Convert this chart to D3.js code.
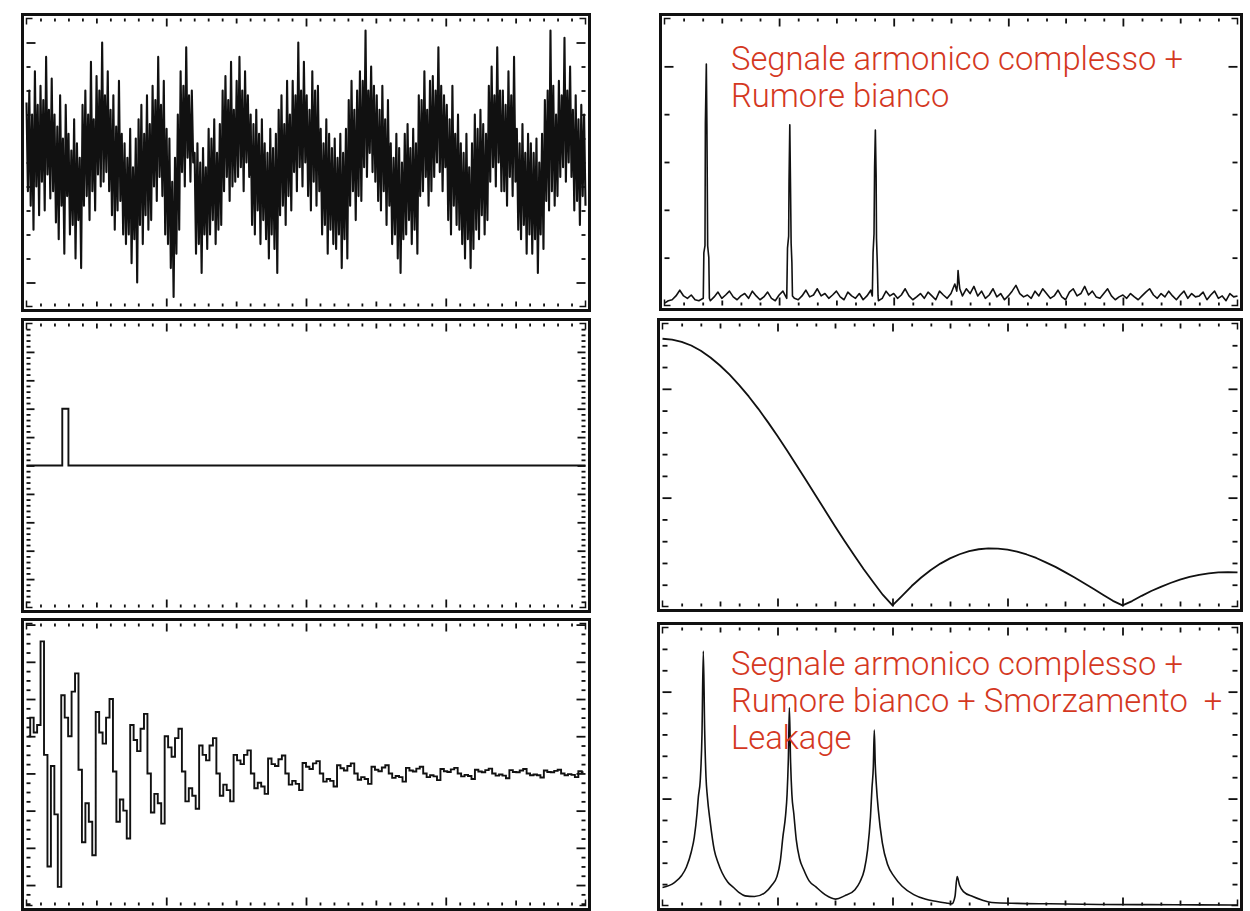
<!DOCTYPE html>
<html><head><meta charset="utf-8">
<script src="https://cdn.jsdelivr.net/npm/d3@7/dist/d3.min.js"></script>
<style>html,body{margin:0;padding:0;background:#fff;}svg{display:block;}text.lbl{white-space:pre;}</style>
</head><body>
<svg id="c" width="1250" height="911"></svg>
<script>
// ---------- DATA ----------
// Top-left: harmonic signal + white noise (time series)
const tlValues = [
25,-12,30,-18,20,-28,38,-10,24,-22,
32,-8,26,-20,44,-5,22,-15,35,-12,
20,-25,15,-32,28,-18,10,-38,24,-14,
12,-30,5,-26,18,-40,8,-24,2,-44,
24,-18,30,-14,20,-24,42,-12,18,-20,
36,-5,30,-10,50,-8,28,-4,38,-12,
22,-22,28,-28,15,-20,34,-16,12,-30,
8,-34,2,-30,14,-42,-2,-32,10,-50,
18,-26,24,-34,12,-22,28,-28,16,-24,
32,-10,26,-16,44,-6,24,-14,34,-30,
14,-34,10,-44,-8,-56,2,-38,20,-28,
38,-4,32,-10,48,2,28,-8,30,0,
4,-38,8,-34,0,-46,6,-30,-2,-36,
14,-30,10,-24,18,-34,4,-28,16,-26,
30,-12,36,-6,26,-16,42,-10,22,-8,
34,-6,44,-2,30,-12,38,0,28,-6,
20,-26,16,-30,22,-20,12,-34,18,-24,
8,-32,4,-40,14,-30,6,-36,12,-46,
22,-22,28,-18,16,-26,34,-14,20,-20,
34,-4,28,-12,50,-2,30,-10,42,0,
28,-14,22,-20,38,-8,30,-18,32,-12,
14,-30,8,-26,18,-38,12,-28,6,-34,
10,-36,2,-30,12,-44,4,-32,14,-40,
26,-18,34,-12,22,-24,30,-14,38,-16,
34,-2,55,-6,30,4,40,-4,32,-8,
28,-16,22,-20,32,-12,18,-26,26,-18,
8,-34,2,-30,12,-40,6,-46,0,-32,
12,-30,16,-24,6,-34,14,-28,8,-38,
28,-14,26,-12,38,-6,22,-18,34,-12,
36,-6,30,0,48,-4,32,-12,28,-2,
24,-24,18,-30,32,-18,12,-26,20,-28,
8,-34,4,-40,12,-32,-2,-44,8,-36,
20,-28,14,-32,22,-22,16,-30,12,-24,
32,-8,40,-2,28,-10,48,0,30,-12,
30,-12,24,-18,38,-6,28,-14,44,-8,
14,-28,8,-32,16,-26,4,-38,12,-30,
8,-38,4,-32,10,-46,0,-30,12,-36,
26,-16,30,-20,55,-12,32,-18,20,-14,
34,-6,28,-2,52,-8,30,0,40,-6,
22,-20,28,-16,18,-26,24,-14,20,-18
];

// Top-right: spectrum (noise floor on a 0.2 grid + the peaks)
const trGridStep = 0.2;
const trNoise = [
0.05,0.1,0.12,0.2,0.32,0.2,0.15,0.22,0.12,0.1,
0.12,0.15,0.1,0.18,0.28,0.15,0.22,0.3,0.18,0.12,
0.2,0.25,0.15,0.3,0.2,0.12,0.18,0.28,0.15,0.1,
0.22,0.3,0.18,0.25,0.15,0.12,0.2,0.32,0.18,0.22,
0.35,0.2,0.25,0.15,0.22,0.3,0.18,0.12,0.28,0.2,
0.15,0.25,0.12,0.2,0.32,0.18,0.1,0.15,0.3,0.2,
0.25,0.15,0.22,0.35,0.2,0.12,0.18,0.25,0.15,0.28,
0.2,0.12,0.3,0.22,0.15,0.25,0.45,0.3,0.2,0.35,
0.25,0.4,0.2,0.3,0.15,0.22,0.35,0.18,0.25,0.12,
0.2,0.3,0.42,0.25,0.18,0.22,0.15,0.3,0.2,0.35,
0.25,0.15,0.2,0.32,0.18,0.12,0.28,0.35,0.2,0.25,
0.4,0.22,0.3,0.18,0.15,0.25,0.35,0.2,0.12,0.18,
0.22,0.15,0.25,0.18,0.12,0.2,0.28,0.35,0.22,0.15,
0.25,0.18,0.3,0.2,0.12,0.22,0.3,0.15,0.25,0.18,
0.2,0.28,0.12,0.22,0.3,0.15,0.2,0.1,0.25,0.18,0.2
];
const trPeakFreq = [2.03,2.06,2.12,2.14,2.19,2.22,2.26,2.32,2.35,
                    6.4,6.44,6.5,6.52,6.56,6.6,6.63,6.67,6.7,
                    10.88,10.92,10.97,11.0,11.04,11.08,11.1,11.14,11.18,
                    15.3,15.34,15.37,15.42,15.46];
const trPeakAmp  = [0.15,1.1,1.25,3.8,5.05,3.8,1.25,1.0,0.15,
                    0.15,1.2,1.45,2.6,3.78,2.4,1.3,0.9,0.2,
                    0.2,1.1,1.5,2.9,3.67,2.7,1.4,0.9,0.2,
                    0.3,0.45,0.73,0.5,0.35];

// Middle-left: rectangular pulse
const mlPulseX = [0, 2.56, 2.56, 3.0, 3.0, 40];
const mlPulseY = [0, 0, 2, 2, 0, 0];

// Middle-right: magnitude of the pulse spectrum (step 0.5)
const mrStep = 0.5;
const mrAmp = [12.3,12.26,12.16,11.99,11.75,11.44,11.07,10.65,10.17,9.65,
9.08,8.47,7.83,7.17,6.48,5.79,5.09,4.39,3.69,3.01,
2.35,1.71,1.11,0.53,0.05,0.49,0.94,1.33,1.68,1.97,
2.21,2.40,2.54,2.63,2.67,2.66,2.61,2.52,2.39,2.23,
2.03,1.82,1.58,1.33,1.07,0.80,0.53,0.26,0.05,0.25,
0.49,0.71,0.90,1.08,1.23,1.36,1.45,1.52,1.57,1.58,1.57];

// Bottom-left: damped harmonic signal + noise
const blValues = [
1.0,1.5,1.1,1.3,3.55,0.5,-2.5,0.2,-1.1,
-3.05,2.1,1.5,1.0,2.2,2.69,0.1,-1.85,-0.8,-1.3,
-2.2,1.65,1.1,0.8,1.5,2.0,0.05,-1.3,-0.7,-1.0,
-1.75,1.3,0.9,0.6,1.2,1.6,0.0,-1.05,-0.55,-0.8,
-1.35,1.0,0.7,0.45,0.95,1.2,0.05,-0.75,-0.4,-0.6,
-0.95,0.75,0.5,0.35,0.75,0.95,0.0,-0.6,-0.3,-0.45,
-0.75,0.5,0.35,0.25,0.5,0.62,0.0,-0.4,-0.25,-0.35,
-0.55,0.4,0.25,0.2,0.38,0.48,0.0,-0.3,-0.2,-0.28,
-0.45,0.28,0.18,0.12,0.27,0.33,0.0,-0.22,-0.15,-0.2,
-0.35,0.22,0.14,0.08,0.2,0.27,0.0,-0.17,-0.1,-0.15,
-0.28,0.18,0.1,0.06,0.16,0.22,0.0,-0.12,-0.07,-0.1,
-0.22,0.15,0.08,0.05,0.13,0.18,0.0,-0.1,-0.05,-0.08,
-0.18,0.12,0.06,0.04,0.11,0.15,0.0,-0.08,-0.04,-0.07,
-0.15,0.1,0.05,0.03,0.09,0.13,0.0,-0.06,-0.03,-0.06,
-0.13,0.09,0.04,0.03,0.08,0.12,0.0,-0.05,-0.03,-0.05,
-0.11,0.08,0.04,0.03,0.07,0.1,0.0,-0.05,-0.02,-0.04,
-0.1,0.06,0.03
];

// Bottom-right: damped spectrum with leakage
const brFreq = [0,0.62,1.0,1.25,1.5,1.66,1.8,1.87,1.97,2.06,2.13,2.2,2.27,2.34,2.49,2.7,2.9,3.11,3.4,3.71,4.0,4.31,4.8,
5.35,5.7,5.97,6.15,6.28,6.42,6.5,6.57,6.62,6.68,6.75,6.85,6.98,7.15,7.37,7.65,7.99,8.5,9.03,9.5,
10.04,10.3,10.53,10.7,10.85,10.93,11.0,11.05,11.1,11.16,11.26,11.47,11.75,12.09,12.5,13.11,13.7,14.32,14.8,15.1,
15.26,15.37,15.5,15.7,16.19,16.7,17.18,18.5,20.2,22.8,25.4,28,30];
const brAmp = [0.84,1.07,1.4,1.8,2.5,3.2,4.3,5.07,5.86,8.0,11.9,8.2,6.0,5.1,3.9,2.6,2.0,1.53,1.1,0.84,0.6,0.45,0.42,
0.6,0.95,1.35,2.1,3.2,4.2,5.2,7.0,9.26,6.8,5.2,4.3,3.07,2.2,1.67,1.15,0.88,0.5,0.3,0.45,
0.74,1.1,1.67,2.6,4.14,5.5,6.5,8.2,6.6,5.6,4.47,2.93,1.9,1.35,0.9,0.51,0.3,0.19,0.12,0.08,
0.42,1.35,0.95,0.65,0.42,0.25,0.14,0.1,0.08,0.05,0.04,0.03,0.02];

// Annotations
const trLabel = ["Segnale armonico complesso +", "Rumore bianco"];
const brLabel = ["Segnale armonico complesso +", "Rumore bianco + Smorzamento  +", "Leakage"];

// ---------- LAYOUT ----------
const svg = d3.select("#c");
const INK = "#111";
const RED = "#d4381f";

function makePanel(p){
  const g = svg.append("g");
  g.append("rect").attr("x",p.x).attr("y",p.y).attr("width",p.w).attr("height",p.h)
    .attr("fill","none").attr("stroke",INK).attr("stroke-width",3);
  const ins = 4;
  const b = {x0:p.x+ins, x1:p.x+p.w-ins, y0:p.y+ins, y1:p.y+p.h-ins};
  const x = d3.scaleLinear().domain(p.xDomain).range([b.x0,b.x1]);
  const y = d3.scaleLinear().domain(p.yDomain).range([b.y1,b.y0]);

  function addAxis(axisFn, scale, values, len, tx, ty){
    const ax = axisFn(scale).tickValues(values).tickSize(-len).tickFormat("");
    const a = g.append("g").attr("transform",`translate(${tx},${ty})`).call(ax);
    a.select(".domain").remove();
    a.selectAll("line").attr("stroke",INK).attr("stroke-width",1.8);
  }
  p.xTicks.forEach(t=>{
    addAxis(d3.axisTop, x, t.v, t.len, 0, b.y0);
    addAxis(d3.axisBottom, x, t.v, t.len, 0, b.y1);
  });
  p.yTicks.forEach(t=>{
    addAxis(d3.axisLeft, y, t.v, t.len, b.x0, 0);
    addAxis(d3.axisRight, y, t.v, t.len, b.x1, 0);
  });
  const c = 6;
  const corners = [
    [[b.x0,b.y0+c],[b.x0,b.y0],[b.x0+c,b.y0]],
    [[b.x1-c,b.y0],[b.x1,b.y0],[b.x1,b.y0+c]],
    [[b.x0,b.y1-c],[b.x0,b.y1],[b.x0+c,b.y1]],
    [[b.x1-c,b.y1],[b.x1,b.y1],[b.x1,b.y1-c]]
  ];
  corners.forEach(pts=>g.append("path").attr("d",d3.line()(pts)).attr("fill","none")
    .attr("stroke",INK).attr("stroke-width",1.5));
  return {g,x,y,b};
}

function levelTicks(n, every, mid, lens){
  const all = d3.range(1,n);
  return [
    {v: all.filter(i=>i%every!==0 && (!mid || i%mid!==0)), len: lens[0]},
    {v: mid ? all.filter(i=>i%mid===0 && i%every!==0) : [], len: lens[1]},
    {v: all.filter(i=>i%every===0), len: lens[2]}
  ];
}

const leftXT = levelTicks(40,10,5,[3,5,8]);
const rightXT = levelTicks(30,6,3,[3,5,8]);

// ---------- TOP LEFT ----------
{
  const P = makePanel({x:22.5,y:14.5,w:567,h:296,xDomain:[0,40],yDomain:[-60,60],
    xTicks:leftXT,
    yTicks:[{v:d3.range(-50,60,10).filter(v=>Math.abs(v)!==50),len:4},{v:[-50,50],len:9}]});
  const xi = d3.scaleLinear().domain([0,tlValues.length-1]).range(P.x.range());
  P.g.append("path").datum(tlValues)
    .attr("d",d3.line().x((d,i)=>xi(i)).y(d=>P.y(d)))
    .attr("fill","none").attr("stroke",INK).attr("stroke-width",2.1).attr("stroke-linejoin","round");
}

// ---------- TOP RIGHT ----------
{
  const P = makePanel({x:660.5,y:14.5,w:581,h:295,xDomain:[0,30],yDomain:[0,6],
    xTicks:rightXT,
    yTicks:[{v:[1,2,3,4],len:5},{v:[5],len:9}]});
  const peaks = trPeakFreq.map((f,i)=>({f,a:trPeakAmp[i]}));
  const ranges = [[2.0,2.38],[6.38,6.72],[10.86,11.2],[15.26,15.5]];
  const grid = trNoise.map((a,i)=>({f:i*trGridStep,a}))
    .filter(d=>!ranges.some(r=>d.f>=r[0]&&d.f<=r[1]));
  const pts = grid.concat(peaks).sort((a,b)=>a.f-b.f);
  P.g.append("path").datum(pts)
    .attr("d",d3.line().x(d=>P.x(d.f)).y(d=>P.y(d.a)))
    .attr("fill","none").attr("stroke",INK).attr("stroke-width",1.6).attr("stroke-linejoin","round");
  const t = P.g.append("g");
  trLabel.forEach((s,i)=>t.append("text").attr("class","lbl").attr("x",731).attr("y",70+i*37).text(s));
}

// ---------- MIDDLE LEFT ----------
{
  const yt = d3.range(-49,50,1).map(v=>v/10);
  const P = makePanel({x:22.5,y:319.5,w:567,h:292,xDomain:[0,40],yDomain:[-5,5],
    xTicks:leftXT,
    yTicks:[{v:yt.filter(v=>Math.abs(Math.round(v*10))%10!==0 && Math.abs(Math.round(v*10))%2===0),len:4},
            {v:[-4,-3,-2,-1,0,1,2,3,4],len:8}]});
  const pts = mlPulseX.map((x,i)=>[x,mlPulseY[i]]);
  P.g.append("path").datum(pts)
    .attr("d",d3.line().x(d=>P.x(d[0])).y(d=>P.y(d[1])))
    .attr("fill","none").attr("stroke",INK).attr("stroke-width",1.9);
}

// ---------- MIDDLE RIGHT ----------
{
  const P = makePanel({x:658.5,y:319.5,w:583,h:291,xDomain:[0,30],yDomain:[0,13],
    xTicks:rightXT,
    yTicks:[{v:[1,2,3,4,6,7,8,9,11,12],len:5},{v:[5,10],len:9}]});
  P.g.append("path").datum(mrAmp)
    .attr("d",d3.line().x((d,i)=>P.x(i*mrStep)).y(d=>P.y(d)))
    .attr("fill","none").attr("stroke",INK).attr("stroke-width",1.8).attr("stroke-linejoin","round");
}

// ---------- BOTTOM LEFT ----------
{
  const yt = d3.range(-14,17,1).map(v=>v/4);
  const P = makePanel({x:22.5,y:619.5,w:567,h:290,xDomain:[0,40],yDomain:[-3.55,4.03],
    xTicks:leftXT,
    yTicks:[{v:yt.filter(v=>v%1!==0),len:4},{v:yt.filter(v=>v%1===0),len:9}]});
  const xi = d3.scaleLinear().domain([0,blValues.length-1]).range([P.b.x0+2,P.b.x1-2]);
  P.g.append("path").datum(blValues)
    .attr("d",d3.line().x((d,i)=>xi(i)).y(d=>P.y(d)).curve(d3.curveStep))
    .attr("fill","none").attr("stroke",INK).attr("stroke-width",1.9);
}

// ---------- BOTTOM RIGHT ----------
{
  const P = makePanel({x:658.5,y:623.5,w:583,h:286,xDomain:[0,30],yDomain:[0,13],
    xTicks:rightXT,
    yTicks:[{v:[1,2,3,4,6,7,8,9,11,12],len:5},{v:[5,10],len:9}]});
  const pts = brFreq.map((f,i)=>[f,brAmp[i]]);
  P.g.append("path").datum(pts)
    .attr("d",d3.line().x(d=>P.x(d[0])).y(d=>P.y(d[1])).curve(d3.curveMonotoneX))
    .attr("fill","none").attr("stroke",INK).attr("stroke-width",1.6);
  const t = P.g.append("g");
  brLabel.forEach((s,i)=>t.append("text").attr("class","lbl").attr("x",731).attr("y",675+i*37).text(s));
}

// label styling, sized so the first line spans the measured width
const lbls = svg.selectAll("text.lbl")
  .attr("fill",RED).attr("font-family","Roboto, 'Open Sans', sans-serif")
  .attr("font-weight",300).attr("font-size",32).attr("xml:space","preserve");
const w0 = lbls.node().getComputedTextLength();
lbls.attr("font-size", 32*452/w0);
</script>
</body></html>
